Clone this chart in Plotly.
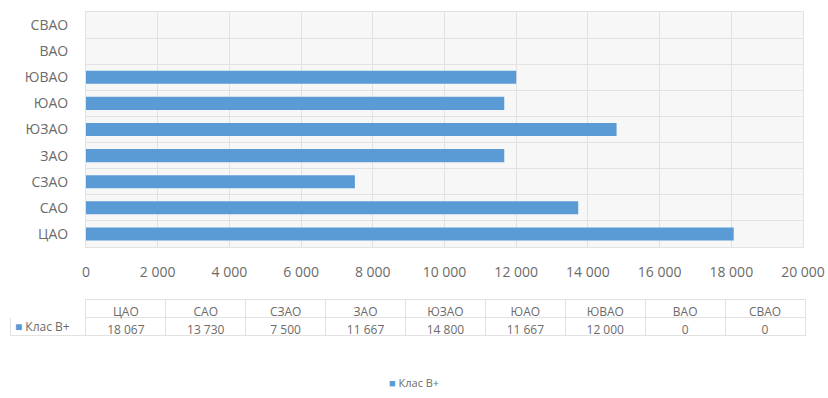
import plotly.graph_objects as go

categories = ["ЦАО", "САО", "СЗАО", "ЗАО", "ЮЗАО", "ЮАО", "ЮВАО", "ВАО", "СВАО"]
values = [18067, 13730, 7500, 11667, 14800, 11667, 12000, 0, 0]
series_name = "Клас В+"
x_ticks = [0, 2000, 4000, 6000, 8000, 10000, 12000, 14000, 16000, 18000, 20000]

BAR = "#5b9bd5"
TXT = "#6b6b6b"
GRID = "#e2e2e2"
FONT = "Open Sans"
W, H = 828, 398

def fmt(v):
    return f"{v:,}".replace(",", " ")

pos = list(range(len(categories)))
bounds = [p - 0.5 for p in pos] + [pos[-1] + 0.5]

fig = go.Figure()
fig.add_trace(go.Bar(
    x=values, y=pos, orientation="h", name=series_name,
    marker=dict(color=BAR, line=dict(width=0)), width=0.5,
    showlegend=False, hoverinfo="x+y",
))

tbl_top = 299
fig.add_trace(go.Table(
    domain=dict(x=[10 / W, 805 / W], y=[1 - 345 / H, 1 - tbl_top / H]),
    columnwidth=[76] + [80] * len(categories),
    header=dict(
        values=[""] + categories,
        align="center", height=18,
        font=dict(family=FONT, size=12, color=TXT),
        fill=dict(color="white"),
        line=dict(color=["white"] + [GRID] * len(categories), width=1),
    ),
    cells=dict(
        values=[[""]] + [[fmt(v)] for v in values],
        align="center", height=18,
        font=dict(family=FONT, size=12, color=TXT),
        fill=dict(color="white"),
        line=dict(color=GRID, width=1),
    ),
))

# series key inside the table's first cell
fig.add_annotation(
    xref="paper", yref="paper", x=13 / W, y=1 - (tbl_top + 27) / H,
    xanchor="left", yanchor="middle", showarrow=False,
    text=f"<span style='color:{BAR}'>■</span> {series_name}",
    font=dict(family=FONT, size=12, color=TXT),
)

# bottom legend
fig.add_annotation(
    xref="paper", yref="paper", x=0.5, y=1 - 382 / H,
    xanchor="center", yanchor="middle", showarrow=False,
    text=f"<span style='color:{BAR}'>■</span> {series_name}",
    font=dict(family=FONT, size=11, color=TXT),
)

fig.update_layout(
    width=W, height=H,
    margin=dict(l=0, r=0, t=0, b=0),
    paper_bgcolor="white", plot_bgcolor="#f7f7f7",
    font=dict(family=FONT, color=TXT, size=12),
    showlegend=False,
    xaxis=dict(
        domain=[86 / W, 803 / W], range=[0, 20000], automargin=False,
        tickvals=x_ticks, ticktext=[fmt(t) for t in x_ticks],
        showgrid=True, gridcolor=GRID, gridwidth=1,
        showline=True, linecolor=GRID, mirror=True,
        zeroline=False, ticks="", ticklabelstandoff=12,
        tickfont=dict(size=14, color=TXT),
    ),
    yaxis=dict(
        domain=[1 - 247 / H, 1 - 12 / H], range=[-0.5, len(categories) - 0.5],
        automargin=False,
        tickvals=pos, ticktext=categories,
        showgrid=False, zeroline=False,
        showline=True, linecolor=GRID, mirror=True,
        ticks="", ticklabelstandoff=14,
        tickfont=dict(size=14, color=TXT),
        minor=dict(tickvals=bounds, showgrid=True, gridcolor=GRID, gridwidth=1, ticks=""),
    ),
)

fig.write_html("out.html")
